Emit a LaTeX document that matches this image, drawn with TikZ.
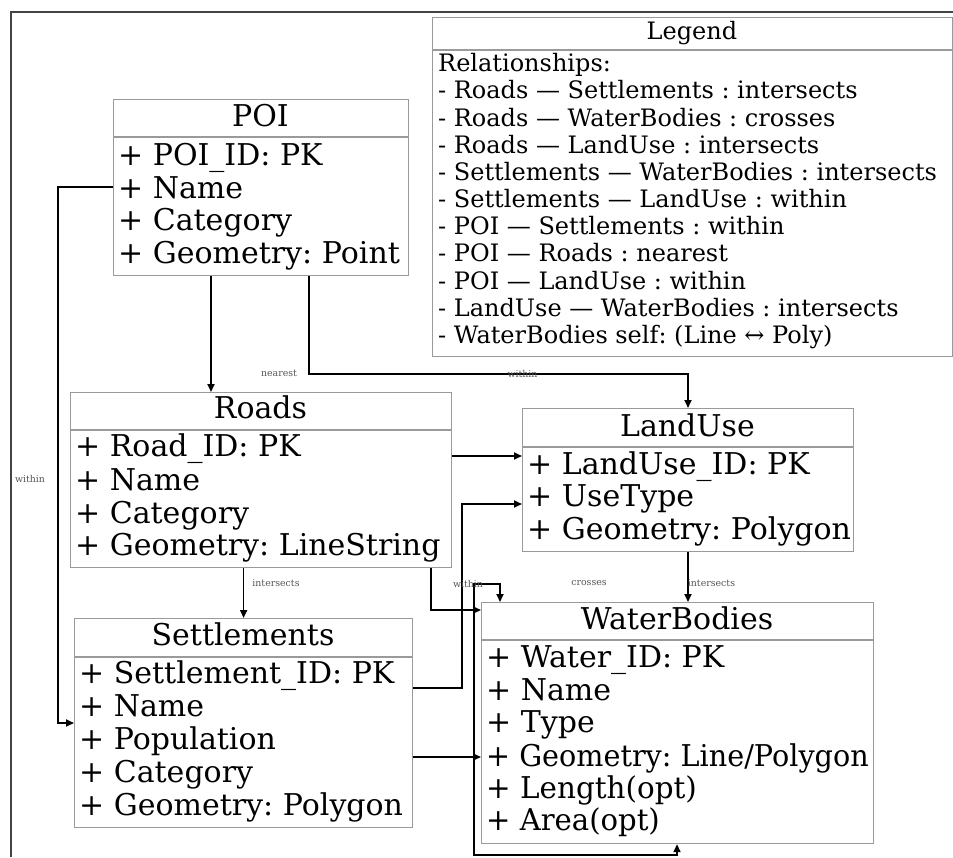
\documentclass[tikz,border=0pt]{standalone}
\usepackage{fontspec}
\usepackage{graphicx}
\setmainfont{DejaVu Serif}
\usetikzlibrary{arrows.meta}
\definecolor{boxgray}{HTML}{9A9A9A}
\definecolor{framegray}{HTML}{444444}
\definecolor{lblgray}{HTML}{555555}
\newcommand{\clsfont}{\fontsize{30}{33}\selectfont\frenchspacing}
\newcommand{\legfont}{\fontsize{24}{27}\selectfont\frenchspacing}
\newcommand{\lblfont}{\fontsize{9.4}{11}\selectfont}
\frenchspacing
\begin{document}
\begin{tikzpicture}[x=1pt,y=-1pt,
  cls/.style={draw=boxgray, line width=1.2pt, rectangle, inner sep=0pt, anchor=north west},
  sepline/.style={draw=boxgray, line width=1.2pt},
  frameline/.style={draw=framegray, line width=1.6pt},
  conn/.style={draw=black, line width=1.7pt, -{Triangle[length=8pt,width=7pt]}},
  conntwo/.style={draw=black, line width=1.7pt, {Triangle[length=8pt,width=7pt]}-{Triangle[length=8pt,width=7pt]}},
  attr/.style={font=\clsfont, anchor=base west, inner sep=0pt},
  ttl/.style={font=\clsfont, anchor=base, inner sep=0pt},
  legtxt/.style={font=\legfont, anchor=base west, inner sep=0pt},
  legttl/.style={font=\legfont, anchor=base, inner sep=0pt},
  lbl/.style={font=\lblfont, text=lblgray, inner sep=0pt}]
\useasboundingbox (0,0) rectangle (953,857);
% outer frame
\draw[frameline] (953,12) -- (11,12) -- (11,857);

% Legend
\node[cls, minimum width=520pt, minimum height=339pt] (legend) at (432,17) {};
\draw[sepline] (legend.west |- 0,50) -- (legend.east |- 0,50);
\node[legttl] (legT) at (692,39.5) {Legend};
\node[legtxt] (leg0) at (438,71.7) {Relationships:};
\node[legtxt] (leg1) at (438,98.9) {- Roads — Settlements : intersects};
\node[legtxt] (leg2) at (438,126.0) {- Roads — WaterBodies : crosses};
\node[legtxt] (leg3) at (438,153.2) {- Roads — LandUse : intersects};
\node[legtxt] (leg4) at (438,180.3) {- Settlements — WaterBodies : intersects};
\node[legtxt] (leg5) at (438,207.5) {- Settlements — LandUse : within};
\node[legtxt] (leg6) at (438,234.7) {- POI — Settlements : within};
\node[legtxt] (leg7) at (438,261.8) {- POI — Roads : nearest};
\node[legtxt] (leg8) at (438,289.0) {- POI — LandUse : within};
\node[legtxt] (leg9) at (438,316.1) {- LandUse — WaterBodies : intersects};
\node[legtxt] (leg10) at (438,343.3) {- WaterBodies self: (Line ↔ Poly)};

% POI
\node[cls, minimum width=295pt, minimum height=176pt] (poi) at (113,99) {};
\draw[sepline] (poi.west |- 0,137) -- (poi.east |- 0,137);
\node[ttl] (poiT) at (260.5,126) {POI};
\node[attr] (poi1) at (118,165) {+ POI\_ID: PK};
\node[attr] (poi2) at (118,198) {+ Name};
\node[attr] (poi3) at (118,230.5) {+ Category};
\node[attr] (poi4) at (118,263) {+ Geometry: Point};

% Roads
\node[cls, minimum width=381pt, minimum height=175pt] (roads) at (70,392) {};
\draw[sepline] (roads.west |- 0,430) -- (roads.east |- 0,430);
\node[ttl] (roadsT) at (260.5,418.5) {Roads};
\node[attr] (roads1) at (75,456.7) {+ Road\_ID: PK};
\node[attr] (roads2) at (75,490) {+ Name};
\node[attr] (roads3) at (75,523.3) {+ Category};
\node[attr] (roads4) at (75,555.5) {+ Geometry: LineString};

% Settlements
\node[cls, minimum width=338pt, minimum height=209pt] (settl) at (74,618) {};
\draw[sepline] (settl.west |- 0,657) -- (settl.east |- 0,657);
\node[ttl] (settlT) at (243,645) {Settlements};
\node[attr] (settl1) at (79,683.3) {+ Settlement\_ID: PK};
\node[attr] (settl2) at (79,716.7) {+ Name};
\node[attr] (settl3) at (79,749.3) {+ Population};
\node[attr] (settl4) at (79,782.7) {+ Category};
\node[attr] (settl5) at (79,815) {+ Geometry: Polygon};

% LandUse
\node[cls, minimum width=331pt, minimum height=143pt] (landuse) at (522,408) {};
\draw[sepline] (landuse.west |- 0,447) -- (landuse.east |- 0,447);
\node[ttl] (landuseT) at (687.5,436) {LandUse};
\node[attr] (landuse1) at (527,474) {+ LandUse\_ID: PK};
\node[attr] (landuse2) at (527,506.7) {+ UseType};
\node[attr] (landuse3) at (527,539.3) {+ Geometry: Polygon};

% WaterBodies
\node[cls, minimum width=392pt, minimum height=241pt] (wb) at (481,602) {};
\draw[sepline] (wb.west |- 0,640) -- (wb.east |- 0,640);
\node[ttl] (wbT) at (677,629.3) {WaterBodies};
\node[attr] (wb1) at (486,667.3) {+ Water\_ID: PK};
\node[attr] (wb2) at (486,700) {+ Name};
\node[attr] (wb3) at (486,732.7) {+ Type};
\node[attr] (wb4) at (486,766) {\scalebox{0.955}[1]{+ Geometry: Line/Polygon}};
\node[attr] (wb5) at (486,798.3) {\scalebox{0.98}[1]{+ Length(opt)}};
\node[attr] (wb6) at (486,830.7) {\scalebox{0.97}[1]{+ Area(opt)}};

% Connectors
\draw[conn] (poi.south -| 211,0) -- (roads.north -| 211,0);
\draw[conn] (poi.south -| 309,0) |- (688,374) -- (landuse.north -| 688,0);
\draw[conn] (poi.west |- 0,187) -| (58,723) -- (settl.west |- 0,723);
\draw[conn] (roads.south -| settl.north) -- (settl.north);
\draw[conn] (roads.east |- 0,456) -- (landuse.west |- 0,456);
\draw[conn] (roads.south -| 431,0) |- (wb.west |- 0,610);
\draw[conn] (settl.east |- 0,688) -| (462,504) -- (landuse.west |- 0,504);
\draw[conn] (settl.east |- 0,757) -- (wb.west |- 0,757);
\draw[conn] (landuse.south -| 688,0) -- (wb.north -| 688,0);
\draw[conntwo] (wb.south -| 677,0) -- (677,855) -- (474,855) -- (474,584) -- (500,584) -- (wb.north -| 500,0);

% Connector labels
\node[lbl] (lNearest) at (279,373.5) {nearest};
\node[lbl] (lPoiLand) at (522.5,373.5) {within};
\node[lbl] (lPoiSettl) at (30,479) {within};
\node[lbl] (lRoadSettl) at (276,583.3) {intersects};
\node[lbl] (lSettlLand) at (468,584) {within};
\node[lbl] (lCrosses) at (589,583.3) {crosses};
\node[lbl] (lLandWb) at (711.5,583.3) {intersects};
\end{tikzpicture}
\end{document}
